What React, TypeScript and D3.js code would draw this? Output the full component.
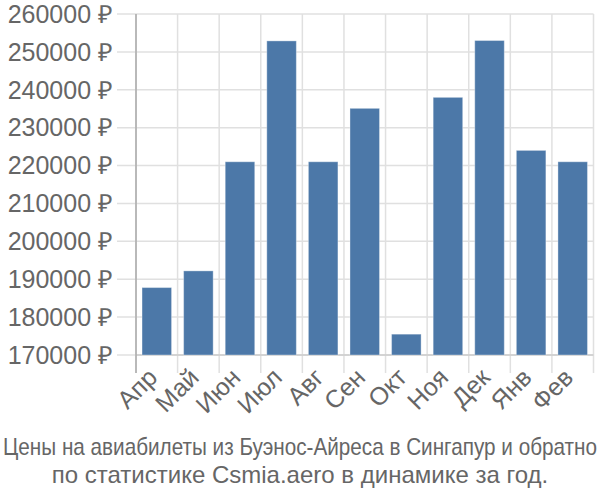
import React, { useEffect, useRef } from 'react';
import * as d3 from 'd3';

const months = ['Апр', 'Май', 'Июн', 'Июл', 'Авг', 'Сен', 'Окт', 'Ноя', 'Дек', 'Янв', 'Фев'];
const prices = [187800, 192200, 221000, 252900, 221000, 235100, 175500, 238000, 253000, 224000, 221000];
const yTicks = [170000, 180000, 190000, 200000, 210000, 220000, 230000, 240000, 250000, 260000];
const captionLines = [
  'Цены на авиабилеты из Буэнос-Айреса в Сингапур и обратно',
  'по статистике Csmia.aero в динамике за год.',
];

const W = 600;
const H = 500;
const FONT = '"Liberation Sans", Arial, sans-serif';

export default function App() {
  const svgRef = useRef<SVGSVGElement>(null);

  useEffect(() => {
    const svg = d3.select(svgRef.current);
    svg.selectAll('*').remove();

    const left = 136;
    const right = 593.5;
    const top = 14;
    const bottom = 355;

    const x = d3.scaleBand<string>()
      .domain(months)
      .range([left, right])
      .paddingInner(0.29)
      .paddingOuter(0.145);
    const y = d3.scaleLinear().domain([170000, 260000]).range([bottom, top]);

    const step = x.step();
    const bounds = d3.range(months.length + 1).map((i) => left + i * step);

    // grid
    const grid = svg.append('g');
    yTicks.forEach((t) => {
      grid.append('line')
        .attr('x1', left - 19).attr('x2', right)
        .attr('y1', y(t)).attr('y2', y(t))
        .attr('stroke', '#e0e0e0').attr('stroke-width', 1.5);
    });
    bounds.forEach((b) => {
      grid.append('line')
        .attr('x1', b).attr('x2', b)
        .attr('y1', top).attr('y2', bottom + 18)
        .attr('stroke', '#e0e0e0').attr('stroke-width', 1.5);
    });

    // bottom axis line
    svg.append('line')
      .attr('x1', left).attr('x2', right)
      .attr('y1', bottom).attr('y2', bottom)
      .attr('stroke', '#cccccc').attr('stroke-width', 1.5);
    // left axis line
    svg.append('line')
      .attr('x1', left).attr('x2', left)
      .attr('y1', top).attr('y2', bottom + 18)
      .attr('stroke', '#aaaaaa').attr('stroke-width', 1.5);

    // bars
    svg.append('g')
      .selectAll('rect')
      .data(months)
      .join('rect')
      .attr('x', (d) => x(d)!)
      .attr('width', x.bandwidth())
      .attr('y', (d, i) => y(prices[i]))
      .attr('height', (d, i) => bottom - y(prices[i]))
      .attr('fill', '#4c78a8')
      .attr('stroke', 'rgba(255,255,255,0.35)')
      .attr('stroke-width', 1);

    // y labels
    svg.append('g')
      .selectAll('text')
      .data(yTicks)
      .join('text')
      .attr('x', left - 23)
      .attr('y', (d) => y(d))
      .attr('dy', '0.35em')
      .attr('text-anchor', 'end')
      .attr('fill', '#666666')
      .attr('font-family', FONT)
      .attr('font-size', 25)
      .text((d) => `${d} ₽`);

    // x labels
    svg.append('g')
      .selectAll('text')
      .data(months)
      .join('text')
      .attr('transform', (d) => `translate(${x(d)! + x.bandwidth() / 2 + 2},${bottom + 24}) rotate(-45)`)
      .attr('text-anchor', 'end')
      .attr('fill', '#666666')
      .attr('font-family', FONT)
      .attr('font-size', 25)
      .text((d) => d);

    // caption
    svg.append('text')
      .attr('x', W / 2)
      .attr('y', 455)
      .attr('text-anchor', 'middle')
      .attr('fill', '#666666')
      .attr('font-family', FONT)
      .attr('font-size', 24)
      .attr('textLength', 594)
      .attr('lengthAdjust', 'spacingAndGlyphs')
      .text(captionLines[0]);
    svg.append('text')
      .attr('x', W / 2)
      .attr('y', 483)
      .attr('text-anchor', 'middle')
      .attr('fill', '#666666')
      .attr('font-family', FONT)
      .attr('font-size', 24)
      .text(captionLines[1]);
  }, []);

  return (
    <svg
      ref={svgRef}
      width={W}
      height={H}
      style={{ position: 'absolute', left: 0, top: 0, background: '#ffffff' }}
    />
  );
}
